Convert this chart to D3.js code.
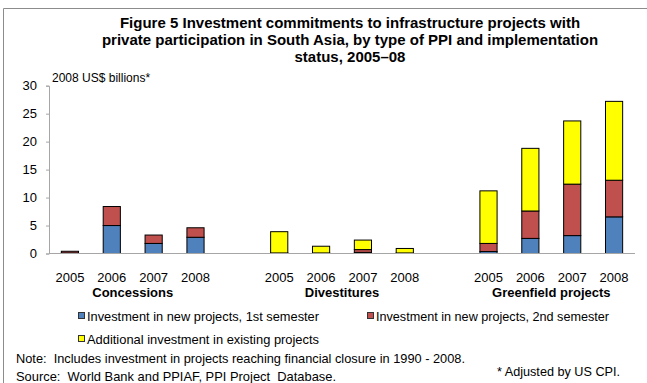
<!DOCTYPE html>
<html>
<head>
<meta charset="utf-8">
<script src="https://cdn.jsdelivr.net/npm/d3@7"></script>
<style>
  html, body { margin: 0; padding: 0; background: #fff; }
  svg { display: block; font-family: "Liberation Sans", Arial, sans-serif; }
</style>
</head>
<body>
<svg id="chart" width="647" height="383"></svg>
<script>
// PPI types and years (one bar per type/year)
const categories = ["Concessions", "Divestitures", "Greenfield projects"];
const years = ["2005", "2006", "2007", "2008"];

// Investment, 2008 US$ billions, in category order, years 2005–2008 each
const newFirstSemester  = [0.1, 5.0, 1.8, 2.9,   0.05, 0.05, 0.2, 0.05,   0.35, 2.7, 3.2, 6.55];
const newSecondSemester = [0.3, 3.4, 1.5, 1.7,   0.05, 0.05, 0.5, 0.05,   1.45, 4.9, 9.2, 6.55];
const existingProjects  = [0,   0,   0,   0,     3.8,  1.2,  1.7, 0.8,    9.4, 11.2, 11.3, 14.1];

const seriesNames = [
  "Investment in new projects, 1st semester",
  "Investment in new projects, 2nd semester",
  "Additional investment in existing projects"
];
const seriesColors = ["#4F81BD", "#C0504D", "#FFFF00"];
const yTicks = [0, 5, 10, 15, 20, 25, 30];

const svg = d3.select("#chart");

// outer frame (left and top edges)
svg.append("path")
  .attr("d", "M3.5,383 V8.5 H647")
  .attr("fill", "none").attr("stroke", "#8c8c8c").attr("stroke-width", 1);

// title
const titleLines = [
  "Figure 5 Investment commitments to infrastructure projects with",
  "private participation in South Asia, by type of PPI and implementation",
  "status, 2005\u201308"
];
svg.append("g").selectAll("text").data(titleLines).join("text")
  .attr("x", 350).attr("y", (d, i) => 28 + i * 17)
  .attr("text-anchor", "middle")
  .attr("font-size", 15).attr("font-weight", "bold").attr("fill", "#000")
  .text(d => d);

// rows: one per category/year, with spacer slots between categories
const rows = [];
categories.forEach((c, ci) => {
  years.forEach((y, yi) => {
    const k = ci * years.length + yi;
    rows.push({
      key: c + "|" + y, cat: c, year: y,
      s0: newFirstSemester[k], s1: newSecondSemester[k], s2: existingProjects[k]
    });
  });
});
const slots = [];
categories.forEach((c, ci) => {
  if (ci > 0) slots.push("gap" + ci);
  years.forEach(y => slots.push(c + "|" + y));
});

const x = d3.scaleBand().domain(slots).range([49, 635]).paddingInner(0.59).paddingOuter(0.295);
const y = d3.scaleLinear().domain([0, 30]).range([253.5, 85.7]);

const stack = d3.stack().keys(["s0", "s1", "s2"]);
const stacked = stack(rows);

// y axis
const yAxis = svg.append("g").attr("transform", "translate(49,0)")
  .call(d3.axisLeft(y).tickValues(yTicks).tickSize(3).tickPadding(9).tickFormat(d3.format("d")));
yAxis.select(".domain").attr("stroke", "#a6a6a6");
yAxis.selectAll(".tick line").attr("stroke", "#a6a6a6");
yAxis.selectAll(".tick text").attr("font-size", 13).attr("fill", "#000")
  .attr("font-family", "\"Liberation Sans\", Arial, sans-serif");

// unit label
svg.append("text").attr("x", 52).attr("y", 82)
  .attr("font-size", 12).attr("fill", "#000")
  .text("2008 US$ billions*");

// bars
svg.append("g").selectAll("g").data(stacked).join("g")
  .attr("fill", (d, i) => seriesColors[i])
  .selectAll("rect").data(d => d).join("rect")
  .attr("x", d => x(d.data.key))
  .attr("width", x.bandwidth())
  .attr("y", d => y(d[1]))
  .attr("height", d => Math.max(0, y(d[0]) - y(d[1])))
  .attr("stroke", "#000").attr("stroke-width", 1);

// x axis baseline
svg.append("line")
  .attr("x1", 49).attr("x2", 635).attr("y1", y(0)).attr("y2", y(0))
  .attr("stroke", "#a6a6a6").attr("stroke-width", 1.2);

// year labels
svg.append("g").selectAll("text").data(rows).join("text")
  .attr("x", d => x(d.key) + x.bandwidth() / 2).attr("y", 282)
  .attr("text-anchor", "middle").attr("font-size", 13).attr("fill", "#000")
  .text(d => d.year);

// category labels
svg.append("g").selectAll("text").data(categories).join("text")
  .attr("x", c => {
    const a = x(c + "|" + years[0]);
    const b = x(c + "|" + years[years.length - 1]) + x.bandwidth();
    return (a + b) / 2;
  })
  .attr("y", 297).attr("text-anchor", "middle")
  .attr("font-size", 13).attr("font-weight", "bold").attr("fill", "#000")
  .text(c => c);

// legend
const legendItems = [
  { name: seriesNames[0], color: seriesColors[0], x: 78, y: 316, w: 232 },
  { name: seriesNames[1], color: seriesColors[1], x: 367, y: 316, w: 233 },
  { name: seriesNames[2], color: seriesColors[2], x: 78, y: 339, w: 232 }
];
const lg = svg.append("g").selectAll("g").data(legendItems).join("g")
  .attr("transform", d => `translate(${d.x},${d.y})`);
lg.append("rect").attr("x", 0.5).attr("y", -3.5).attr("width", 6).attr("height", 6)
  .attr("fill", d => d.color).attr("stroke", "#333").attr("stroke-width", 1);
lg.append("text").attr("x", 9).attr("y", 4.5)
  .attr("font-size", 13).attr("fill", "#000")
  .attr("textLength", d => d.w).attr("lengthAdjust", "spacingAndGlyphs")
  .text(d => d.name);

// notes
const notes = [
  { t: "Note:  Includes investment in projects reaching financial closure in 1990 - 2008.", x: 16, y: 363, w: 449 },
  { t: "Source:  World Bank and PPIAF, PPI Project  Database.", x: 16, y: 381, w: 320 },
  { t: "* Adjusted by US CPI.", x: 497, y: 376, w: 123 }
];
svg.append("g").selectAll("text").data(notes).join("text")
  .attr("x", d => d.x).attr("y", d => d.y)
  .attr("font-size", 13).attr("fill", "#000")
  .attr("textLength", d => d.w).attr("lengthAdjust", "spacingAndGlyphs")
  .attr("xml:space", "preserve")
  .text(d => d.t);
</script>
</body>
</html>
